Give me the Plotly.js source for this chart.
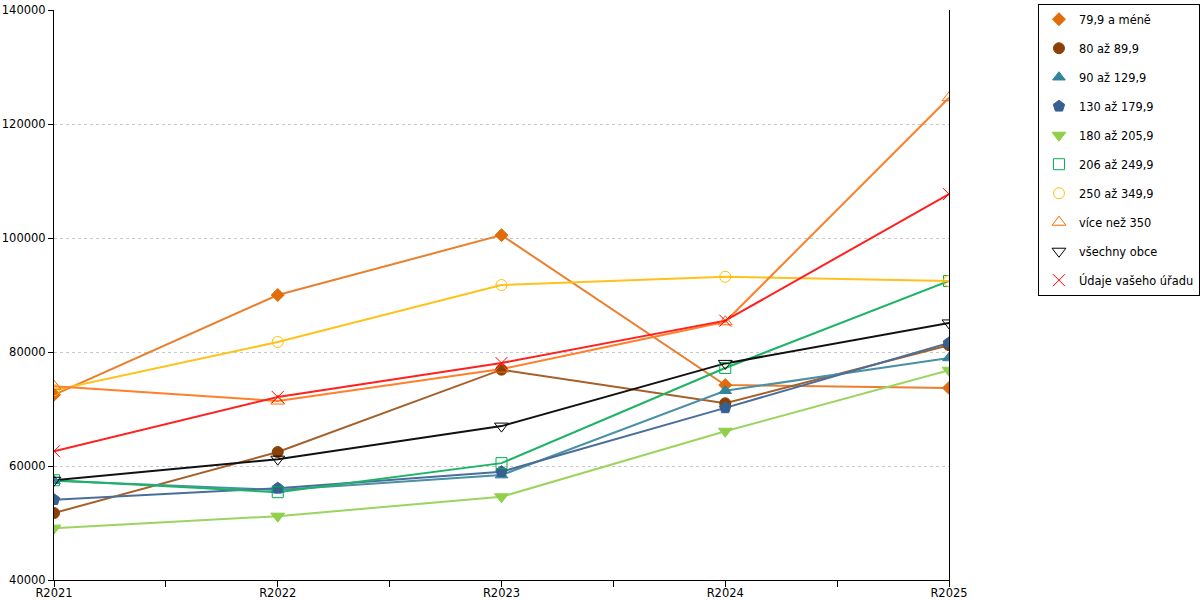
<!DOCTYPE html>
<html>
<head>
<meta charset="utf-8">
<script src="https://cdn.plot.ly/plotly-3.0.1.min.js"></script>
<style>
  html, body { margin: 0; padding: 0; background: #fff; }
  #chart { width: 1200px; height: 600px; }
</style>
</head>
<body>
<div id="chart"></div>
<script>
// years on the x axis
const years = ['R2021', 'R2022', 'R2023', 'R2024', 'R2025'];

// one array per size group
const s79 = [72500, 90000, 100500, 74200, 73700];
const s80 = [51750, 62450, 76900, 71000, 81200];
const s90 = [57400, 55800, 58400, 73200, 78950];
const s130 = [54100, 56100, 59000, 70200, 81600];
const s180 = [49100, 51200, 54600, 66100, 76800];
const s206 = [57500, 55400, 60500, 77200, 92450];
const s250 = [73300, 81750, 91750, 93200, 92450];
const s350 = [74000, 71400, 77000, 85300, 124600];
const sAll = [57500, 61200, 67000, 78000, 85100];
const sOffice = [62600, 72100, 78070, 85500, 107700];

const series = [
    // [ name, values, line colour, marker symbol, marker colour, marker size ]
    ['79,9 a méně', s79, '#e8802f', 'diamond', '#e36c0a', 10],
    ['80 až 89,9', s80, '#a5602a', 'circle', '#8b4008', 11],
    ['90 až 129,9', s90, '#4a90a6', 'triangle-up', '#31849b', 11],
    ['130 až 179,9', s130, '#4a6e9c', 'pentagon', '#366092', 12],
    ['180 až 205,9', s180, '#9bd45e', 'triangle-down', '#8fcf4a', 12],
    ['206 až 249,9', s206, '#1cb464', 'square-open', '#00b050', 11],
    ['250 až 349,9', s250, '#ffc21a', 'circle-open', '#ffc000', 11],
    ['více než 350', s350, '#ff7f2a', 'triangle-up-open', '#ff6a00', 12],
    ['všechny obce', sAll, '#111111', 'triangle-down-open', '#000000', 12],
    ['Údaje vašeho úřadu', sOffice, '#ff2020', 'x-thin-open', '#ff0000', 12]
];

const xIdx = years.map((y, i) => i);
const xTicks = [0, 0.5, 1, 1.5, 2, 2.5, 3, 3.5, 4];
const xTickText = xTicks.map(v => Number.isInteger(v) ? years[v] : '');

const lineTraces = series.map(s => ({
    x: xIdx,
    y: s[1],
    type: 'scatter',
    mode: 'lines',
    name: s[0],
    showlegend: false,
    hoverinfo: 'skip',
    line: { color: s[2], width: 2 }
}));

// markers drawn separately so the legend shows only the symbol, as in the original
const markerTraces = series.map((s, i) => ({
    x: xIdx,
    y: s[1],
    type: 'scatter',
    mode: 'markers',
    name: s[0],
    legendgroup: 'g' + i,
    marker: {
        symbol: s[3],
        color: s[4],
        size: s[5],
        line: { color: s[4], width: 1 }
    }
}));

const layout = {
    width: 1200,
    height: 600,
    margin: { l: 54, r: 251, t: 10, b: 20, autoexpand: false },
    paper_bgcolor: '#ffffff',
    plot_bgcolor: '#ffffff',
    font: { family: 'DejaVu Sans, Verdana, sans-serif', size: 12, color: '#000' },
    showlegend: true,
    legend: {
        x: 1.0994, xanchor: 'left',
        y: 1.011, yanchor: 'top',
        bordercolor: '#000', borderwidth: 1,
        bgcolor: '#fff',
        traceorder: 'grouped',
        tracegroupgap: 10,
        itemwidth: 30,
        font: { family: 'DejaVu Sans, Verdana, sans-serif', size: 11.4 }
    },
    xaxis: {
        range: [0, 4],
        tickvals: xTicks,
        ticktext: xTickText,
        ticks: 'outside',
        ticklen: 6,
        tickcolor: '#000',
        ticklabelstandoff: -4,
        showline: true,
        linecolor: '#000',
        linewidth: 1,
        showgrid: false,
        zeroline: false,
        fixedrange: true,
        tickfont: { size: 11.5 }
    },
    yaxis: {
        range: [40000, 140000],
        dtick: 20000,
        tickformat: 'd',
        ticks: 'outside',
        ticklen: 5,
        tickcolor: '#000',
        showline: true,
        mirror: true,
        linecolor: '#000',
        linewidth: 1,
        showgrid: true,
        gridcolor: '#c8c8c8',
        griddash: 'dot',
        zeroline: false,
        fixedrange: true,
        tickfont: { size: 11.5 }
    }
};

Plotly.newPlot('chart', lineTraces.concat(markerTraces), layout, { displayModeBar: false, staticPlot: true });
</script>
</body>
</html>
